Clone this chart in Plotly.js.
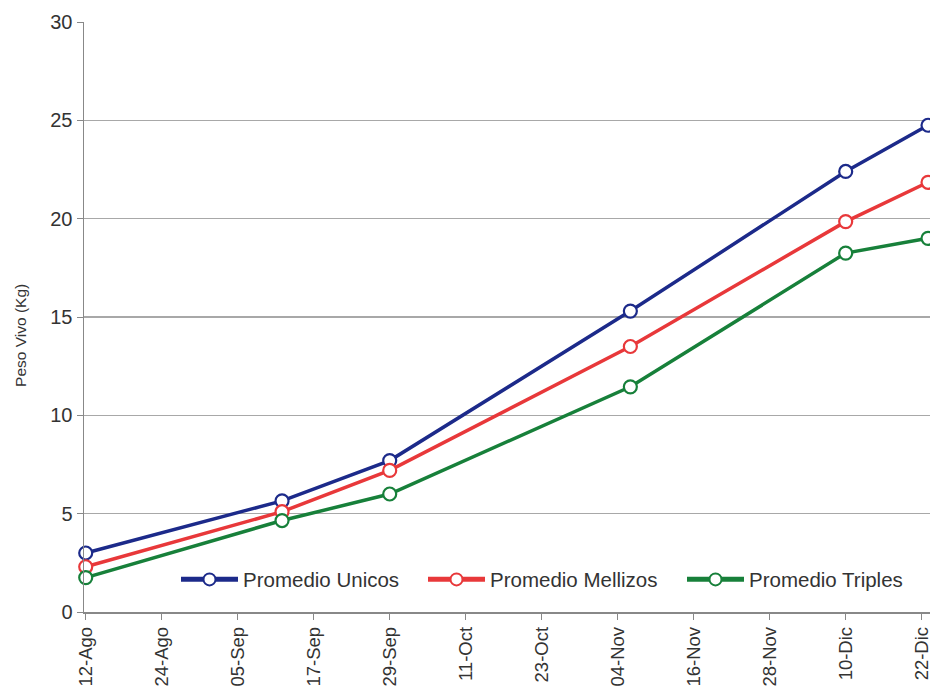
<!DOCTYPE html>
<html>
<head>
<meta charset="utf-8">
<script src="https://cdn.plot.ly/plotly-3.0.1.min.js"></script>
<style>
  html, body { margin: 0; padding: 0; background: #ffffff; overflow: hidden; }
  #chart { width: 930px; height: 694px; }
</style>
</head>
<body>
<div id="chart"></div>
<script>
// Weighing dates and average live weight (kg) per birth type
const fechas = ['2008-08-12', '2008-09-12', '2008-09-29', '2008-11-06', '2008-12-10', '2008-12-23'];
const promedioUnicos    = [3.0, 5.65, 7.7, 15.3, 22.4, 24.75];
const promedioMellizos  = [2.3, 5.1, 7.2, 13.5, 19.85, 21.85];
const promedioTriples   = [1.75, 4.65, 6.0, 11.45, 18.25, 19.0];

// Axis ticks every 12 days, labelled in Spanish
const tickFechas = ['2008-08-12', '2008-08-24', '2008-09-05', '2008-09-17', '2008-09-29', '2008-10-11',
                    '2008-10-23', '2008-11-04', '2008-11-16', '2008-11-28', '2008-12-10', '2008-12-22'];
const tickEtiquetas = ['12-Ago', '24-Ago', '05-Sep', '17-Sep', '29-Sep', '11-Oct',
                       '23-Oct', '04-Nov', '16-Nov', '28-Nov', '10-Dic', '22-Dic'];
const yTicks = [0, 5, 10, 15, 20, 25, 30];

const FONT = '"Liberation Sans", Arial, sans-serif';
const TEXT = '#333333';

function serie(nombre, y, color, legendId) {
  return {
    type: 'scatter',
    mode: 'lines+markers',
    name: nombre,
    legend: legendId,
    x: fechas,
    y: y,
    line: { color: color, width: 3.5 },
    marker: { symbol: 'circle', size: 13, color: '#ffffff', line: { color: color, width: 2.2 } },
    cliponaxis: false
  };
}

const data = [
  serie('Promedio Unicos', promedioUnicos, '#1c2a8a', 'legend'),
  serie('Promedio Mellizos', promedioMellizos, '#e8383a', 'legend2'),
  serie('Promedio Triples', promedioTriples, '#17803a', 'legend3')
];

// one legend box per series so each entry sits at its own spot in the row
function leyenda(xPaper) {
  return {
    orientation: 'h',
    x: xPaper,
    xanchor: 'left',
    y: 0.055,
    yanchor: 'middle',
    bgcolor: 'rgba(0,0,0,0)',
    borderwidth: 0,
    itemwidth: 57,
    itemsizing: 'constant',
    font: { family: FONT, size: 20.5, color: TEXT }
  };
}

const layout = {
  width: 930,
  height: 694,
  margin: { l: 84, r: 0, t: 22, b: 82 },
  paper_bgcolor: '#ffffff',
  plot_bgcolor: '#ffffff',
  showlegend: true,
  font: { family: FONT, color: TEXT },
  xaxis: {
    type: 'date',
    range: ['2008-08-11 17:30', '2008-12-23 07:30'],
    tickmode: 'array',
    tickvals: tickFechas,
    ticktext: tickEtiquetas,
    tickangle: -90,
    ticklabeloverflow: 'allow',
    tickfont: { family: FONT, size: 18.5, color: TEXT },
    ticks: 'outside',
    ticklen: 6,
    tickcolor: '#888888',
    showgrid: false,
    showline: true,
    linecolor: '#888888',
    linewidth: 1.5,
    zeroline: false,
    fixedrange: true
  },
  yaxis: {
    range: [0, 30],
    tickmode: 'array',
    tickvals: yTicks,
    tickfont: { family: FONT, size: 20, color: TEXT },
    ticks: 'outside',
    ticklen: 6,
    tickcolor: '#888888',
    showgrid: true,
    gridcolor: '#a8a8a8',
    gridwidth: 1.2,
    showline: true,
    linecolor: '#888888',
    linewidth: 1.5,
    zeroline: false,
    fixedrange: true
  },
  annotations: [{
    text: 'Peso Vivo (Kg)',
    xref: 'paper', yref: 'paper',
    x: 0, y: 0.468,
    xanchor: 'center', yanchor: 'middle',
    xshift: -63,
    textangle: -90,
    showarrow: false,
    font: { family: FONT, size: 15.5, color: TEXT }
  }],
  legend: leyenda((176 - 84) / 846),
  legend2: leyenda((423 - 84) / 846),
  legend3: leyenda((682 - 84) / 846)
};

Plotly.newPlot('chart', data, layout, { displayModeBar: false, staticPlot: true });
</script>
</body>
</html>
